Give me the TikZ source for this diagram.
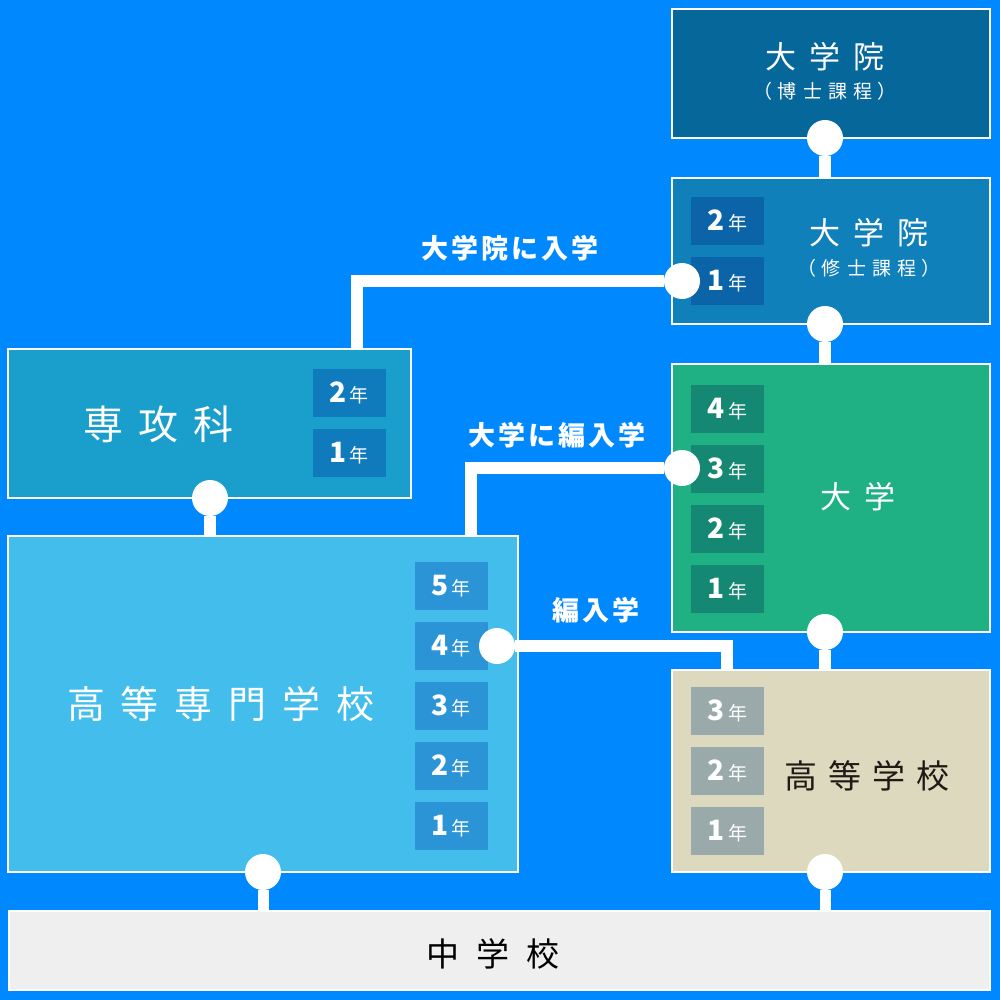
\documentclass[tikz,border=0pt]{standalone}
\usepackage{fontspec}
\setmainfont{Noto Sans CJK JP}
\pgfdeclarelayer{bgl}
\pgfdeclarelayer{boxl}
\pgfdeclarelayer{linel}
\pgfsetlayers{bgl,boxl,linel,main}
\definecolor{bgc}{HTML}{0089FF}
\definecolor{dok}{HTML}{06679B}
\definecolor{mas}{HTML}{0F80BA}
\definecolor{masy}{HTML}{0B64A8}
\definecolor{sen}{HTML}{1A9ECC}
\definecolor{seny}{HTML}{0F7BBD}
\definecolor{kos}{HTML}{42BDEC}
\definecolor{kosy}{HTML}{2B94D7}
\definecolor{dai}{HTML}{1FB083}
\definecolor{daiy}{HTML}{158873}
\definecolor{hig}{HTML}{DDD9BF}
\definecolor{higy}{HTML}{9AAAAA}
\definecolor{jun}{HTML}{EFEFEF}
\definecolor{dark}{HTML}{231815}
\newcommand{\fs}[1]{\fontsize{#1}{#1}\selectfont}
\newcommand{\yrtext}[1]{{\bfseries\fs{28}#1}\kern3pt{\fs{19}年}}
\tikzset{
  sbox/.style={draw=white, line width=2.5pt, inner sep=0pt, minimum width=#1},
  yrbox/.style={fill=#1, inner sep=0pt, minimum width=73pt, minimum height=48pt, text=white},
  conn/.style={draw=white, line width=12pt, line join=miter},
  dot/.style={circle, fill=white, inner sep=0pt, minimum size=36pt},
  lbl/.style={text=white, font=\bfseries\fs{27}, inner sep=0pt},
  ttl/.style={text=white, inner sep=0pt}
}
\begin{document}
\begin{tikzpicture}[x=1pt,y=-1pt]
\begin{pgfonlayer}{bgl}
\fill[bgc] (0,0) rectangle (1000,1000);
\end{pgfonlayer}
\useasboundingbox (0,0) rectangle (1000,1000);
\begin{pgfonlayer}{boxl}
\node[sbox=318pt, minimum height=129pt, fill=dok] (bdok) at (831,73.5) {};
\node[sbox=318pt, minimum height=146pt, fill=mas] (bmas) at (831,251) {};
\node[sbox=403pt, minimum height=149pt, fill=sen] (bsen) at (209.5,423.5) {};
\node[sbox=510pt, minimum height=336pt, fill=kos] (bkos) at (263,704) {};
\node[sbox=318pt, minimum height=268pt, fill=dai] (bdai) at (831,498) {};
\node[sbox=318pt, minimum height=202pt, fill=hig] (bhig) at (831,771) {};
\node[sbox=981pt, minimum height=79pt, fill=jun] (bjun) at (499.5,950.5) {};
% year boxes
\node[yrbox=masy] (m2) at (727.5,221) {\yrtext{2}};
\node[yrbox=masy] (m1) at (727.5,281) {\yrtext{1}};
\node[yrbox=seny] (s2) at (349,393) {\yrtext{2}};
\node[yrbox=seny] (s1) at (349,453) {\yrtext{1}};
\node[yrbox=kosy] (k5) at (451,586) {\yrtext{5}};
\node[yrbox=kosy] (k4) at (451,646) {\yrtext{4}};
\node[yrbox=kosy] (k3) at (451,706) {\yrtext{3}};
\node[yrbox=kosy] (k2) at (451,766) {\yrtext{2}};
\node[yrbox=kosy] (k1) at (451,826) {\yrtext{1}};
\node[yrbox=daiy] (u4) at (727.5,409) {\yrtext{4}};
\node[yrbox=daiy] (u3) at (727.5,469) {\yrtext{3}};
\node[yrbox=daiy] (u2) at (727.5,529) {\yrtext{2}};
\node[yrbox=daiy] (u1) at (727.5,589) {\yrtext{1}};
\node[yrbox=higy] (h3) at (727.5,711) {\yrtext{3}};
\node[yrbox=higy] (h2) at (727.5,771) {\yrtext{2}};
\node[yrbox=higy] (h1) at (727.5,831) {\yrtext{1}};
\end{pgfonlayer}
% dots
\node[dot] (ddok) at (825,138) {};
\node[dot] (dmas) at (825,324) {};
\node[dot] (ddai) at (825,632) {};
\node[dot] (dhig) at (825,872) {};
\node[dot] (dkos) at (263,872) {};
\node[dot] (dsen) at (210,498) {};
\node[dot] (din) at (682,281) {};
\node[dot] (dhen) at (682,468) {};
\node[dot] (dtr) at (497,646) {};
\coordinate (c1) at (357,349);
\coordinate (c2) at (471,536);
\coordinate (c3) at (727,670);
\begin{pgfonlayer}{linel}
\draw[conn] (ddok) -- (ddok |- bmas.north);
\draw[conn] (dmas) -- (dmas |- bdai.north);
\draw[conn] (ddai) -- (ddai |- bhig.north);
\draw[conn, line width=11pt] (dhig) -- (dhig |- bjun.north);
\draw[conn, line width=11pt] (dkos) -- (dkos |- bjun.north);
\draw[conn] (dsen) -- (dsen |- bkos.north);
\draw[conn] (c1) |- (din);
\draw[conn] (c2) |- (dhen);
\draw[conn] (dtr) -| (c3);
\end{pgfonlayer}
% titles
\node[ttl, font=\fs{31}] (tdok) at (825,57) {大\kern13pt 学\kern13pt 院};
\node[ttl, font=\fs{19}] (tdok2) at (825,91) {（\kern6pt 博\kern6pt 士\kern6pt 課\kern6pt 程\kern6pt ）};
\node[ttl, font=\fs{31}] (tmas) at (869,233) {大\kern13pt 学\kern13pt 院};
\node[ttl, font=\fs{19}] (tmas2) at (869,268) {（\kern6pt 修\kern6pt 士\kern6pt 課\kern6pt 程\kern6pt ）};
\node[ttl, font=\fs{40}] (tsen) at (158,424) {専\kern15pt 攻\kern15pt 科};
\node[ttl, font=\fs{38}] (tkos) at (221,704) {高\kern16pt 等\kern16pt 専\kern16pt 門\kern16pt 学\kern16pt 校};
\node[ttl, font=\fs{31}] (tdai) at (858,497) {大\kern14pt 学};
\node[ttl, text=dark, font=\fs{33}] (thig) at (867,776) {高\kern11pt 等\kern11pt 学\kern11pt 校};
\node[ttl, text=black, font=\fs{33}] (tjun) at (493,954) {中\kern17pt 学\kern17pt 校};
% labels
\node[lbl] (l1) at (510,248) {大\kern3pt 学\kern3pt 院\kern3pt に\kern3pt 入\kern3pt 学};
\node[lbl] (l2) at (557,435) {大\kern3pt 学\kern3pt に\kern3pt 編\kern3pt 入\kern3pt 学};
\node[lbl] (l3) at (596,610) {編\kern3pt 入\kern3pt 学};
\end{tikzpicture}
\end{document}
